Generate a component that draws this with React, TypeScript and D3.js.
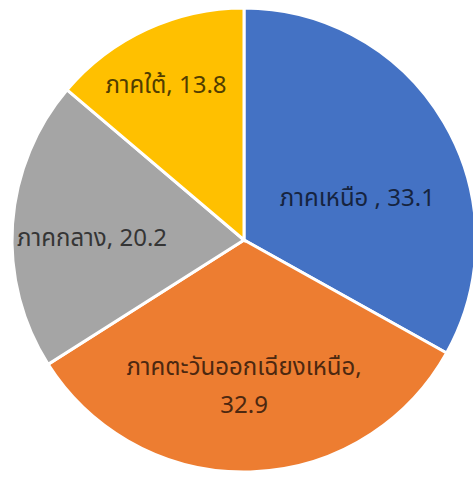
import { useMemo } from "react";
import * as d3 from "d3";

const regions = ["ภาคเหนือ", "ภาคตะวันออกเฉียงเหนือ", "ภาคกลาง", "ภาคใต้"];
const values = [33.1, 32.9, 20.2, 13.8];
const colors = ["#4472C4", "#ED7D31", "#A5A5A5", "#FFC000"];
// label text split in lines, as Excel wrapped them
const labelLines = [
  ["ภาคเหนือ , 33.1"],
  ["ภาคตะวันออกเฉียงเหนือ,", "32.9"],
  ["ภาคกลาง, 20.2"],
  ["ภาคใต้, 13.8"],
];

// best-fit placement: radius fraction and angle shift (degrees)
const labelLayout = [
  { rf: 0.52, da: 10.4 },
  { rf: 0.635, da: 1.6 },
  { rf: 0.655, da: -3.5 },
  { rf: 0.745, da: -2 },
];

const width = 473;
const height = 478;
const cx = 244;
const cy = 240;
const radius = 232;
const lineGap = 38;

const App = () => {
  const slices = useMemo(() => {
    const pie = d3
      .pie<number>()
      .sort(null)
      .value((d) => d);
    const arc = d3.arc<d3.PieArcDatum<number>>().innerRadius(0).outerRadius(radius);
    return pie(values).map((p, i) => {
      const shift = (labelLayout[i].da * Math.PI) / 180;
      const lr = radius * labelLayout[i].rf;
      const [lx, ly] = d3
        .arc()
        .innerRadius(lr)
        .outerRadius(lr)
        .centroid({
          startAngle: p.startAngle + shift,
          endAngle: p.endAngle + shift,
          innerRadius: lr,
          outerRadius: lr,
        } as any);
      return {
        path: arc(p),
        lx,
        ly,
        fill: colors[i],
        textFill: d3.color(colors[i])!.darker(3.2).formatHex(),
        lines: labelLines[i],
        name: regions[i],
      };
    });
  }, []);

  return (
    <svg
      width={width}
      height={height}
      style={{ position: "absolute", left: 0, top: 0, background: "#fff" }}
    >
      <g transform={`translate(${cx}, ${cy})`}>
        {slices.map((d, i) => (
          <path key={i} d={d.path ?? undefined} fill={d.fill} stroke="#fff" strokeWidth={3} />
        ))}
        {slices.map((d, i) => (
          <text
            key={i}
            x={d.lx}
            y={d.ly - ((d.lines.length - 1) * lineGap) / 2}
            textAnchor="middle"
            dominantBaseline="central"
            fontFamily="'Noto Sans Thai', 'Noto Sans', sans-serif"
            fontSize={24}
            fill={d.textFill}
          >
            {d.lines.map((t, j) => (
              <tspan key={j} x={d.lx} dy={j === 0 ? 0 : lineGap}>
                {t}
              </tspan>
            ))}
          </text>
        ))}
      </g>
    </svg>
  );
};

export default App;
